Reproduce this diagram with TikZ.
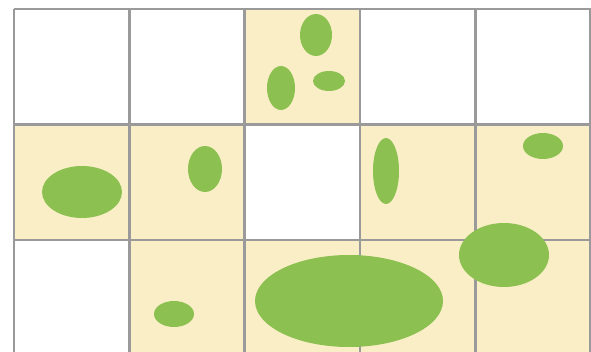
\documentclass[tikz,border=0pt]{standalone}
\usepackage{tikz}
\usepackage{xcolor}

\definecolor{crema}{HTML}{FAEEC6}
\definecolor{foglia}{HTML}{8CC152}
\definecolor{griglia}{HTML}{9A9A9A}

\begin{document}
\begin{tikzpicture}[x=1pt, y=-1pt,
  cella/.style={fill=crema, draw=none},
  linea/.style={draw=griglia, line width=2.6pt},
  macchia/.style={fill=foglia}]

\clip (0,0) rectangle (591,352);
\fill[white] (0,0) rectangle (591,352);

% celle colorate (colonna/riga)
\foreach \c/\r in {2/0, 0/1, 1/1, 3/1, 4/1, 1/2, 2/2, 3/2, 4/2}
  \fill[cella] ({14+115.3*\c},{9+115.5*\r}) rectangle ++(115.3,115.5);

% griglia
\foreach \c in {0,...,5}
  \draw[linea] ({14+115.3*\c},9) -- ({14+115.3*\c},360);
\foreach \r in {0,1,2}
  \draw[linea] (14,{9+115.5*\r}) -- (590.5,{9+115.5*\r});

% macchie verdi
\fill[macchia] (316,35)  ellipse [x radius=16pt, y radius=21pt];
\fill[macchia] (281,88)  ellipse [x radius=14pt, y radius=22pt];
\fill[macchia] (329,81)  ellipse [x radius=16pt, y radius=10pt];
\fill[macchia] (82,192)  ellipse [x radius=40pt, y radius=26pt];
\fill[macchia] (205,169) ellipse [x radius=17pt, y radius=23pt];
\fill[macchia] (386,171) ellipse [x radius=13pt, y radius=33pt];
\fill[macchia] (543,146) ellipse [x radius=20pt, y radius=13pt];
\fill[macchia] (174,314) ellipse [x radius=20pt, y radius=13pt];
\fill[macchia] (349,301) ellipse [x radius=94pt, y radius=46pt];
\fill[macchia] (504,255) ellipse [x radius=45pt, y radius=32pt];

\end{tikzpicture}
\end{document}
